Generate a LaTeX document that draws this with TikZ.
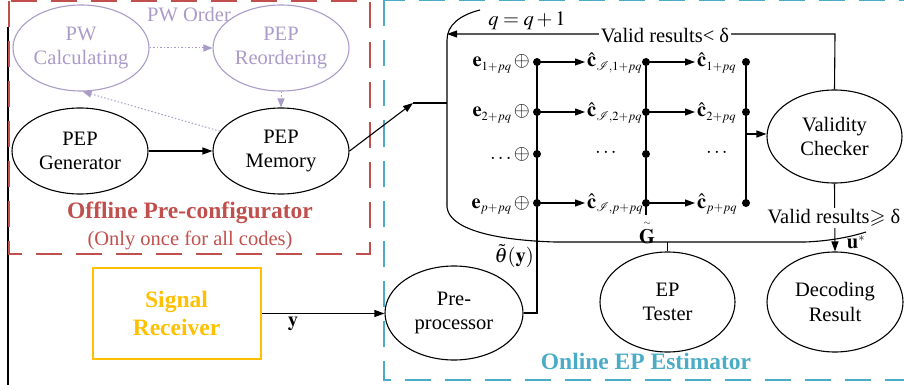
\documentclass[tikz,border=0pt]{standalone}
\usepackage{mathptmx}
\usepackage{amssymb}
\usepackage{amsmath}
\usepackage[no-math]{fontspec}
\setmainfont{Liberation Serif}
\usetikzlibrary{shapes.geometric,arrows.meta}
\definecolor{offred}{RGB}{192,80,77}
\definecolor{onblue}{RGB}{75,172,198}
\definecolor{sigyel}{RGB}{255,192,0}
\definecolor{pwpur}{RGB}{170,155,200}
\DeclareMathSizes{20.5}{20.5}{12.5}{9}
\newcommand{\fsz}{\fontsize{20.5}{24.5}\selectfont}
\newcommand{\fbig}{\fontsize{23.5}{28}\selectfont\bfseries}
\newcommand{\tld}[1]{\overset{\scriptscriptstyle\sim}{#1}}
\begin{document}
\begin{tikzpicture}[x=1pt,y=-1pt,
  every node/.style={font=\fsz, inner sep=0pt},
  ell/.style={draw, ellipse, line width=1.1pt, align=center, minimum width=136pt, minimum height=86pt},
  pell/.style={ell, draw=pwpur, text=pwpur},
  conn/.style={line width=1.1pt},
  arr/.style={conn, -{Triangle[length=10pt,width=7pt]}},
  parr/.style={line width=1pt, draw=pwpur, dash pattern=on 1.5pt off 2pt, -{Triangle[length=9pt,width=7pt,fill=pwpur]}},
  dot/.style={circle, fill, minimum size=8pt},
  dashbox/.style={line width=2pt, dash pattern=on 26pt off 14pt}]
\useasboundingbox (0,0) rectangle (904,385);
\clip (0,0) rectangle (904,385);

% frame pieces
\draw[line width=1.2pt] (8,27) -- (8,385);
\draw[dashbox, offred] (9,1) rectangle (370,254);
\draw[dashbox, onblue] (384,0.5) rectangle (915,380);

% offline part
\node[pell] (pwc) at (81,48) {PW\\Calculating};
\node[pell] (reo) at (281,48) {PEP\\Reordering};
\node[text=pwpur] (pwo) at (189,15) {PW Order};
\node[ell] (gen) at (80,151) {PEP\\Generator};
\node[ell] (mem) at (281,151) {PEP\\Memory};
\node[text=offred, font=\fbig] (off) at (190,213) {Offline Pre-configurator};
\node[text=offred] (once) at (190,240) {(Only once for all codes)};

\draw[parr] (pwc) -- (reo);
\draw[parr] (reo) -- (mem);
\draw[parr] (mem.162) -- (pwc.272);
\draw[arr] (gen) -- (mem);

% signal receiver
\node[draw=sigyel, line width=2pt, minimum width=168pt, minimum height=91pt, text=sigyel, font=\fbig, align=center] (sig) at (176.5,313.5) {Signal\\Receiver};

% online part
\node[ell, minimum width=138pt, minimum height=94pt] (pre) at (454,313) {Pre-\\processor};
\node[ell, minimum width=135pt, minimum height=100pt] (ept) at (667.5,302) {EP\\Tester};
\node[ell, minimum width=136pt, minimum height=100pt] (dec) at (835,302) {Decoding\\Result};
\node[ell, minimum width=135pt, minimum height=93pt] (chk) at (834.5,136.5) {Validity\\Checker};
\node[text=onblue, font=\fbig] (onl) at (646,361) {Online EP Estimator};

\draw[arr] (sig.east) -- (pre.west |- sig.east);
\node (ylab) at (293,324) {$\mathbf{y}$};

% bracket
\draw[conn] (480,10) .. controls (460,15) and (447,25) .. (447,40) -- (447,207)
  .. controls (449,228) and (490,240) .. (555,242) -- (805,242)
  .. controls (830,241) and (850,237) .. (866,232);

% memory to bracket
\coordinate (mtip) at (413,103);
\coordinate (bin) at (447,103);
\draw[arr] (mem.east) -- (mtip);
\draw[conn] (mtip) -- (bin);

% grid dots
\node[dot] (a1) at (537,62) {};
\node[dot] (a2) at (537,112) {};
\node[dot] (a3) at (537,154) {};
\node[dot] (a4) at (537,203) {};
\node[dot] (b1) at (646,62) {};
\node[dot] (b2) at (646,112) {};
\node[dot] (b3) at (646,154) {};
\node[dot] (b4) at (646,203) {};
\node[dot] (c1) at (746,62) {};
\node[dot] (c2) at (746,112) {};
\node[dot] (c4) at (746,203) {};
\coordinate (gtick) at (646,215);
\coordinate (c3m) at (746,134);

\draw[conn] (pre.east) -| (a1.center);
\draw[conn] (b1.center) -- (gtick);
\draw[conn] (c1.center) -- (c4.center);
\draw[arr] (c3m) -- (chk.west |- c3m);

% row labels
\node[anchor=base east] (e1) at (530,67) {$\mathbf{e}_{1+pq}\,\oplus$};
\node[anchor=base east] (e2) at (530,117) {$\mathbf{e}_{2+pq}\,\oplus$};
\node[anchor=base east] (e3) at (530,159) {$\ldots\oplus$};
\node[anchor=base east] (e4) at (530,208) {$\mathbf{e}_{p+pq}\,\oplus$};

\node[anchor=base west] (ci1) at (587,67) {$\hat{\mathbf{c}}_{\mathcal{I},1+pq}$};
\node[anchor=base west] (ci2) at (587,117) {$\hat{\mathbf{c}}_{\mathcal{I},2+pq}$};
\node (ci3) at (607,153) {$\cdots$};
\node[anchor=base west] (ci4) at (587,208) {$\hat{\mathbf{c}}_{\mathcal{I},p+pq}$};

\node[anchor=base west] (co1) at (697,67) {$\hat{\mathbf{c}}_{1+pq}$};
\node[anchor=base west] (co2) at (697,117) {$\hat{\mathbf{c}}_{2+pq}$};
\node (co3) at (718,153) {$\cdots$};
\node[anchor=base west] (co4) at (697,208) {$\hat{\mathbf{c}}_{p+pq}$};

\draw[arr] (a1.center) -- ([xshift=-2pt]ci1.west |- a1);
\draw[arr] (a2.center) -- ([xshift=-2pt]ci2.west |- a2);
\draw[arr] (a4.center) -- ([xshift=-2pt]ci4.west |- a4);
\draw[arr] (b1.center) -- ([xshift=-2pt]co1.west |- b1);
\draw[arr] (b2.center) -- ([xshift=-2pt]co2.west |- b2);
\draw[arr] (b4.center) -- ([xshift=-2pt]co4.west |- b4);

% feedback loop
\coordinate (fbt) at (835,34);
\coordinate (fbl) at (447,34);
\draw[arr] (chk.north) -- (fbt) -- (fbl);
\node[fill=white, inner xsep=2pt, inner ysep=1pt] (vlt) at (665,35) {Valid results< δ};
\node (qlab) at (527,21) {$q=q+1$};

% output
\draw[arr] (chk.south) -- (dec.north);
\node[fill=white, inner xsep=2pt, inner ysep=1pt] (vge) at (834,218) {Valid results$\geqslant$ δ};
\node (ulab) at (856,242) {$\mathbf{u}^{*}$};

% EP tester link
\coordinate (gb) at (667.5,242);
\draw[conn] (ept.north) -- (gb);
\node (glab) at (647,232) {$\tld{\mathbf{G}}$};
\node[anchor=east] (tlab) at (534,256) {$\tilde{\theta}(\mathbf{y})$};
\end{tikzpicture}
\end{document}
